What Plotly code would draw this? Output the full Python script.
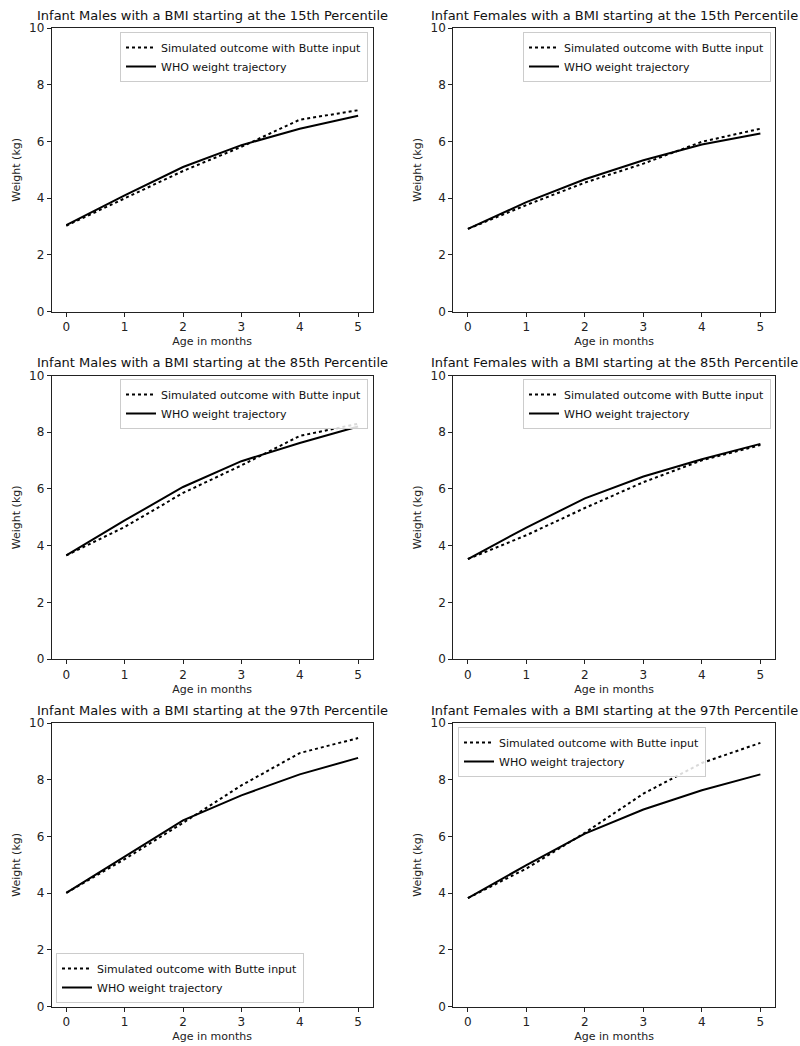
import plotly.graph_objects as go

months = [0, 1, 2, 3, 4, 5]

titles = [
    "Infant Males with a BMI starting at the 15th Percentile",
    "Infant Females with a BMI starting at the 15th Percentile",
    "Infant Males with a BMI starting at the 85th Percentile",
    "Infant Females with a BMI starting at the 85th Percentile",
    "Infant Males with a BMI starting at the 97th Percentile",
    "Infant Females with a BMI starting at the 97th Percentile",
]

sim_m15 = [3.03, 3.99, 4.96, 5.81, 6.77, 7.10]
who_m15 = [3.05, 4.10, 5.10, 5.87, 6.45, 6.91]
sim_f15 = [2.92, 3.76, 4.55, 5.22, 5.99, 6.45]
who_f15 = [2.92, 3.86, 4.67, 5.34, 5.89, 6.28]
sim_m85 = [3.66, 4.66, 5.86, 6.83, 7.87, 8.30]
who_m85 = [3.66, 4.89, 6.07, 6.98, 7.62, 8.20]
sim_f85 = [3.53, 4.37, 5.33, 6.24, 7.01, 7.55]
who_f85 = [3.53, 4.64, 5.67, 6.44, 7.05, 7.59]
sim_m97 = [4.01, 5.20, 6.48, 7.80, 8.94, 9.47]
who_m97 = [4.01, 5.28, 6.57, 7.45, 8.19, 8.77]
sim_f97 = [3.83, 4.87, 6.13, 7.51, 8.59, 9.30]
who_f97 = [3.83, 4.99, 6.10, 6.95, 7.63, 8.19]

sim_series = [sim_m15, sim_f15, sim_m85, sim_f85, sim_m97, sim_f97]
who_series = [who_m15, who_f15, who_m85, who_f85, who_m97, who_f97]

sim_name = "Simulated outcome with Butte input"
who_name = "WHO weight trajectory"

W, H = 800, 1046
x_domains = [(51.7, 372.7), (453.3, 775.0)]
y_domains = [(28.0, 311.7), (375.5, 659.2), (723.0, 1006.7)]

# legend placement: (x_px, y_px, xanchor, yanchor)
legend_pos = [
    (368, 32, "right", "top"),
    (771, 32, "right", "top"),
    (368, 379, "right", "top"),
    (771, 379, "right", "top"),
    (56, 1003, "left", "bottom"),
    (458, 727, "left", "top"),
]

font_family = "DejaVu Sans, Verdana, sans-serif"
fig = go.Figure()
layout = dict(
    width=W, height=H,
    margin=dict(l=0, r=0, t=0, b=0),
    paper_bgcolor="white", plot_bgcolor="white",
    font=dict(family=font_family, size=11, color="#111"),
    showlegend=True,
    annotations=[],
)

for i in range(6):
    r, c = divmod(i, 2)
    n = "" if i == 0 else str(i + 1)
    xd = x_domains[c]
    yd = y_domains[r]
    leg = "legend" if i == 0 else f"legend{i+1}"
    fig.add_trace(go.Scatter(
        x=months, y=sim_series[i], mode="lines", name=sim_name,
        line=dict(color="black", width=2, dash="dot"),
        xaxis="x" + n, yaxis="y" + n, legend=leg,
    ))
    fig.add_trace(go.Scatter(
        x=months, y=who_series[i], mode="lines", name=who_name,
        line=dict(color="black", width=2),
        xaxis="x" + n, yaxis="y" + n, legend=leg,
    ))
    axis_common = dict(
        showline=True, linecolor="#222", linewidth=1, mirror=True,
        ticks="outside", ticklen=4, tickwidth=1, tickcolor="#222",
        showgrid=False, zeroline=False, automargin=False,
        tickfont=dict(size=12, color="#222"),
    )
    layout["xaxis" + n] = dict(
        axis_common,
        domain=[xd[0] / W, xd[1] / W],
        range=[-0.25, 5.25], tickmode="array", tickvals=months,
        anchor="y" + n,
        title=dict(text="Age in months", font=dict(size=11, color="#222"), standoff=4),
    )
    layout["yaxis" + n] = dict(
        axis_common,
        domain=[1 - yd[1] / H, 1 - yd[0] / H],
        range=[0, 10], tickmode="array", tickvals=[0, 2, 4, 6, 8, 10],
        anchor="x" + n,
        title=dict(text="Weight (kg)", font=dict(size=11, color="#222"), standoff=6),
    )
    layout["annotations"].append(dict(
        text=titles[i], xref="paper", yref="paper",
        x=(xd[0] + xd[1]) / 2 / W, y=1 - (yd[0] - 3) / H,
        xanchor="center", yanchor="bottom", showarrow=False,
        font=dict(size=13, color="#111"),
    ))
    lx, ly, xa, ya = legend_pos[i]
    layout[leg] = dict(
        x=lx / W, y=1 - ly / H, xanchor=xa, yanchor=ya,
        xref="paper", yref="paper",
        bgcolor="rgba(255,255,255,0.85)", bordercolor="#cccccc", borderwidth=1,
        font=dict(size=11, color="#111"),
        tracegroupgap=0, itemwidth=30,
    )

fig.update_layout(**layout)
fig.write_html(
    "out.html",
    config={"displayModeBar": False},
    post_script="document.body.style.margin='0px';document.body.style.overflow='hidden';",
)
